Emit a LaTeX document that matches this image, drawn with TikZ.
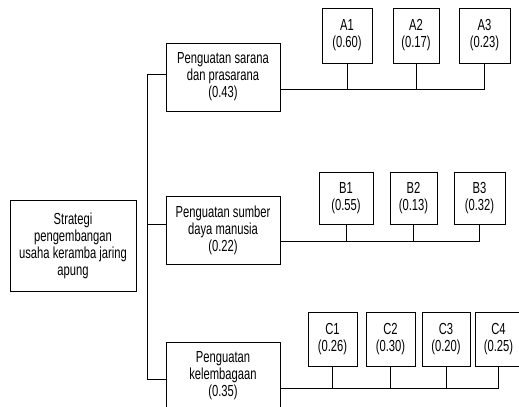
\documentclass[tikz,border=0pt]{standalone}
\usepackage{fontspec}
\setmainfont[FakeStretch=0.7]{Liberation Sans}
\usetikzlibrary{calc}

\tikzset{every picture/.style={line width=0.75pt}}
\tikzset{
  box/.style={draw, rectangle, inner sep=0pt, align=center, font=\fontsize{12}{12.75}\selectfont},
  mainbox/.style={box, minimum width=85.5pt, minimum height=51pt},
  leafA/.style={box, minimum height=41.25pt},
  leafB/.style={box, minimum height=39pt},
  leafC/.style={box, minimum height=40.5pt},
}

\begin{document}
\begin{tikzpicture}[x=0.75pt,y=0.75pt,yscale=-1,xscale=1]
\useasboundingbox (0,0) rectangle (519,407);

%Shape: Rectangle [root]
\node [box, minimum width=94.5pt, minimum height=68.25pt] (root) at (73,245.5) {Strategi\\pengembangan\\usaha keramba jaring\\apung};

%Shape: Rectangle [criteria]
\node [mainbox] (A) at (223,77) {Penguatan sarana\\dan prasarana\\(0.43)};
\node [mainbox] (B) at (223,230) {Penguatan sumber\\daya manusia\\(0.22)};
\node [mainbox] (C) at (223,376) {Penguatan\\kelembagaan\\(0.35)};

%Shape: Rectangle [sub criteria A]
\node [leafA, minimum width=37.5pt] (A1) at (347,35.5) {A1\\(0.60)};
\node [leafA, minimum width=34.5pt] (A2) at (416,35.5) {A2\\(0.17)};
\node [leafA, minimum width=38.25pt] (A3) at (484.5,35.5) {A3\\(0.23)};

%Shape: Rectangle [sub criteria B]
\node [leafB, minimum width=40.5pt] (B1) at (346,198.5) {B1\\(0.55)};
\node [leafB, minimum width=35.25pt] (B2) at (413.5,198.5) {B2\\(0.13)};
\node [leafB, minimum width=38.25pt] (B3) at (479.5,198.5) {B3\\(0.32)};

%Shape: Rectangle [sub criteria C]
\node [leafC, minimum width=36.75pt] (C1) at (332.5,339) {C1\\(0.26)};
\node [leafC, minimum width=36.75pt] (C2) at (390.5,339) {C2\\(0.30)};
\node [leafC, minimum width=36pt] (C3) at (446,339) {C3\\(0.20)};
\node [leafC, minimum width=35.25pt] (C4) at (498.5,339) {C4\\(0.25)};

%Straight Lines [spine]
\coordinate (jA) at ([yshift=-2.25pt]A.west);
\coordinate (jB) at ([yshift=-4.5pt]B.west);
\coordinate (jC) at ([yshift=2.25pt]C.west);
\draw (jA) -- ++(-18,0) |- (jC);
\draw (jB) -- ++(-18,0);

%Straight Lines [buses]
\coordinate (busA) at ([yshift=9.5pt]A.east);
\coordinate (busB) at ([yshift=8.25pt]B.east);
\coordinate (busC) at ([yshift=9pt]C.east);
\draw (busA) -| (A3.south);
\foreach \n in {A1,A2}
  \draw (\n.south) -- (\n.south |- busA);
\draw (busB) -| (B3.south);
\foreach \n in {B1,B2}
  \draw (\n.south) -- (\n.south |- busB);
\draw (busC) -| (C4.south);
\foreach \n in {C1,C2,C3}
  \draw (\n.south) -- (\n.south |- busC);

\end{tikzpicture}
\end{document}
